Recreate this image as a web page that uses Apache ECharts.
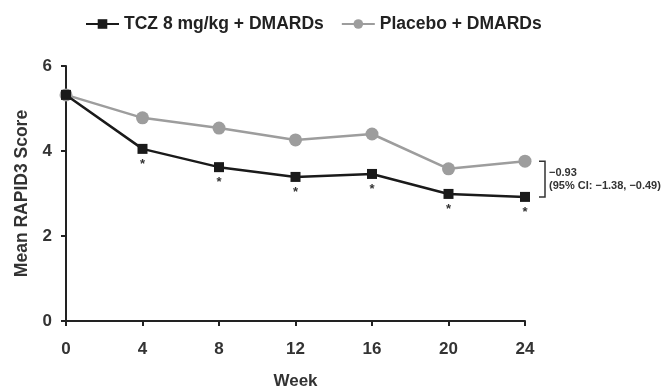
<!DOCTYPE html>
<html>
<head>
<meta charset="utf-8">
<style>
  html, body { margin: 0; padding: 0; background: #fff; }
  #chart { width: 672px; height: 390px; }
</style>
<script src="https://cdn.jsdelivr.net/npm/echarts@6/dist/echarts.min.js"></script>
</head>
<body>
<div id="chart"></div>
<script>
// data
const weeks = [0, 4, 8, 12, 16, 20, 24];
const tczValues = [5.32, 4.05, 3.62, 3.39, 3.46, 2.99, 2.92];
const placeboValues = [5.32, 4.78, 4.54, 4.26, 4.40, 3.58, 3.76];
const significant = [false, true, true, true, true, true, true];
const diffText = ['\u22120.93', '(95% CI: \u22121.38, \u22120.49)'];

const font = 'Liberation Sans, Arial, sans-serif';
const chart = echarts.init(document.getElementById('chart'));

const tczData = weeks.map((w, i) => ({
  value: [w, tczValues[i]],
  label: {
    show: significant[i],
    formatter: '*',
    position: 'bottom',
    distance: 4,
    color: '#333',
    fontSize: 13,
    fontWeight: 'bold',
    fontFamily: font
  }
}));
const placeboData = weeks.map((w, i) => [w, placeboValues[i]]);

const option = {
  animation: false,
  legend: {
    top: 10,
    left: 80,
    itemWidth: 33,
    itemHeight: 12,
    itemGap: 17,
    textStyle: { fontFamily: font, fontSize: 17.5, fontWeight: 'bold', color: '#222' },
    data: ['TCZ 8 mg/kg + DMARDs', 'Placebo + DMARDs']
  },
  grid: { left: 66, right: 147, top: 66, bottom: 69, outerBoundsMode: 'none', containLabel: false },
  xAxis: {
    type: 'value',
    min: 0, max: 24, interval: 4,
    name: 'Week',
    nameLocation: 'middle',
    nameGap: 52,
    nameTextStyle: { fontFamily: font, fontSize: 17, fontWeight: 'bold', color: '#333' },
    axisLine: { lineStyle: { color: '#222', width: 2 } },
    axisTick: { show: true, length: 5, lineStyle: { color: '#222', width: 2 } },
    axisLabel: { fontFamily: font, fontSize: 17, fontWeight: 'bold', color: '#333', margin: 20 },
    splitLine: { show: false }
  },
  yAxis: {
    type: 'value',
    min: 0, max: 6, interval: 2,
    name: 'Mean RAPID3 Score',
    nameLocation: 'middle',
    nameGap: 35,
    nameTextStyle: { fontFamily: font, fontSize: 17.5, fontWeight: 'bold', color: '#333' },
    axisLine: { show: true, lineStyle: { color: '#222', width: 2 } },
    axisTick: { show: true, length: 5, lineStyle: { color: '#222', width: 2 } },
    axisLabel: { fontFamily: font, fontSize: 17, fontWeight: 'bold', color: '#333', margin: 14 },
    splitLine: { show: false }
  },
  series: [
    {
      name: 'Placebo + DMARDs',
      type: 'line',
      data: placeboData,
      symbol: 'circle',
      symbolSize: 13,
      lineStyle: { color: '#9d9d9d', width: 2.5 },
      itemStyle: { color: '#9d9d9d' },
      z: 2
    },
    {
      name: 'TCZ 8 mg/kg + DMARDs',
      type: 'line',
      data: tczData,
      symbol: 'rect',
      symbolSize: 10,
      lineStyle: { color: '#1a1a1a', width: 2.5 },
      itemStyle: { color: '#1a1a1a' },
      z: 3
    }
  ]
};

chart.setOption(option);

// bracket showing the week-24 difference
const last = weeks.length - 1;
const pTop = chart.convertToPixel({ gridIndex: 0 }, [weeks[last], placeboValues[last]]);
const pBot = chart.convertToPixel({ gridIndex: 0 }, [weeks[last], tczValues[last]]);
const bx = pTop[0] + 14;
const midY = (pTop[1] + pBot[1]) / 2;
chart.setOption({
  graphic: [
    {
      type: 'polyline',
      shape: { points: [[bx, pTop[1]], [bx + 6, pTop[1]], [bx + 6, pBot[1]], [bx, pBot[1]]] },
      style: { stroke: '#333', lineWidth: 1.5, fill: null }
    },
    {
      type: 'text',
      x: bx + 10, y: midY - 12,
      style: { text: diffText[0], fontFamily: font, fontSize: 11, fontWeight: 'bold', fill: '#333' }
    },
    {
      type: 'text',
      x: bx + 10, y: midY + 1,
      style: { text: diffText[1], fontFamily: font, fontSize: 11, fontWeight: 'bold', fill: '#333' }
    }
  ]
});

window.addEventListener('resize', chart.resize);
</script>
</body>
</html>
